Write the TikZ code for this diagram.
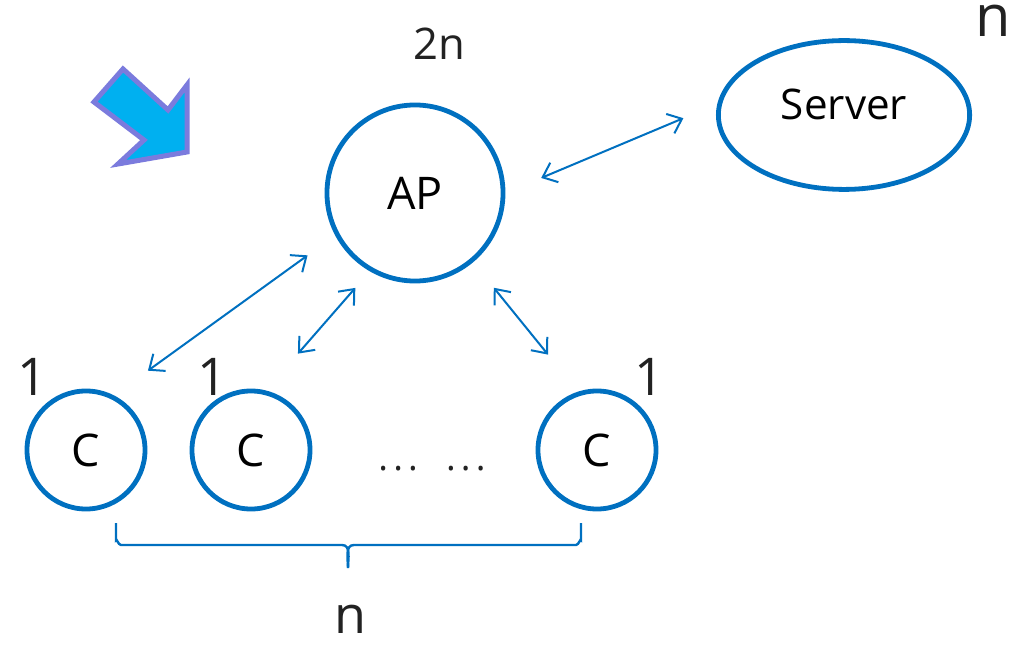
\documentclass[tikz,border=0pt]{standalone}
\usepackage{fontspec}
\setmainfont{Open Sans}
\usetikzlibrary{arrows.meta,shapes.geometric}
\definecolor{ringblue}{HTML}{0070C0}
\definecolor{hintcyan}{HTML}{00B0F0}
\definecolor{hintedge}{HTML}{7B7BDD}
\definecolor{labelgray}{HTML}{222222}

\begin{document}
\begin{tikzpicture}[x=0.025cm, y=-0.025cm,
	hub/.style={circle, draw=ringblue, line width=0.12cm, inner sep=0pt, minimum size=4.4cm, font=\fontsize{32}{38}\selectfont},
	client/.style={circle, draw=ringblue, line width=0.12cm, inner sep=0pt, minimum size=2.95cm, font=\fontsize{32}{38}\selectfont},
	host/.style={ellipse, draw=ringblue, line width=0.12cm, inner sep=0pt, minimum width=6.28cm, minimum height=3.72cm, text depth=0.55cm, font=\fontsize{30}{36}\selectfont},
	count/.style={text=labelgray, inner sep=0pt},
	link/.style={draw=ringblue, line width=0.05cm, {Straight Barb[length=9pt,width=15pt]}-{Straight Barb[length=9pt,width=15pt]}},
	brace/.style={draw=ringblue, line width=0.06cm}]
	\useasboundingbox (0,0) rectangle (1016,648);
	\node[hub] (ap) at (415,193) {AP};
	\node[host] (server) at (844,115) {Server};
	\node[client] (c1) at (86,450) {C};
	\node[client] (c2) at (251,450) {C};
	\node[client] (c3) at (597,450) {C};
	\node[count, font=\fontsize{31}{37}\selectfont] (apn) at (439,44) {2n};
	\node[count, font=\fontsize{41}{49}\selectfont] (servern) at (993,21) {n};
	\node[count, font=\fontsize{37}{44}\selectfont] (c1n) at (32,377) {1};
	\node[count, font=\fontsize{37}{44}\selectfont] (c2n) at (212,377) {1};
	\node[count, font=\fontsize{37}{44}\selectfont] (c3n) at (649,377) {1};
	\node[count, font=\fontsize{37}{44}\selectfont] (alln) at (350,619) {n};
	\node[count, font=\fontsize{26}{31}\selectfont, anchor=base] (dots) at (432,470)
		{.\kern3.7pt.\kern3.7pt.\kern20pt.\kern3.7pt.\kern3.7pt.};
	\draw[link, shorten <=0.97cm, shorten >=0.92cm] (ap.0) -- (server.175);
	\draw[link, shorten <=1.05cm, shorten >=0.85cm] (c1.63) -- (ap.208);
	\draw[link, shorten <=1.22cm, shorten >=0.55cm] (c2.76) -- (ap.240);
	\draw[link, shorten <=1.19cm, shorten >=0.82cm] (c3.108) -- (ap.310);
	\draw[brace] (116,523) -- (116,540) to[out=90,in=180] (121,545) -- (342,545) to[out=0,in=90] (348,568);
	\draw[brace] (581,523) -- (581,540) to[out=90,in=0] (576,545) -- (354,545) to[out=180,in=90] (348,568);
	\filldraw[fill=hintcyan, draw=hintedge, line width=0.125cm, line join=miter]
		(123,69) -- (94,102) -- (144,140) -- (118,164) -- (187,152) -- (187,85) -- (168,110) -- cycle;
\end{tikzpicture}
\end{document}
